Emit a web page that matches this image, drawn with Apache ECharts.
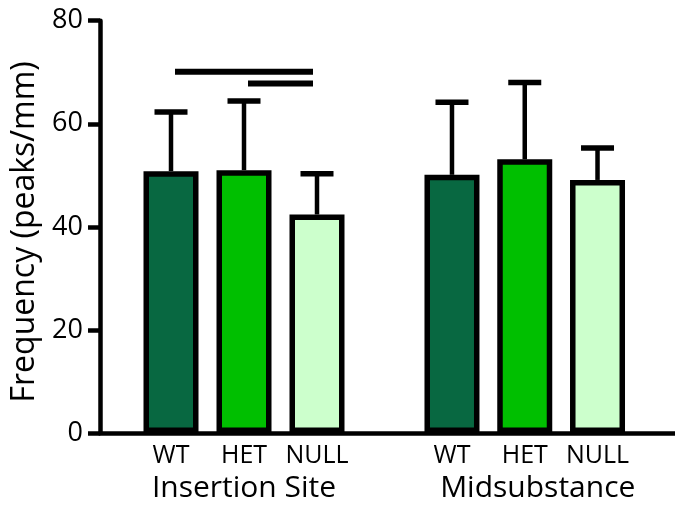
<!DOCTYPE html>
<html>
<head>
<meta charset="utf-8">
<script src="https://cdn.jsdelivr.net/npm/echarts@6/dist/echarts.min.js"></script>
<style>
  html, body { margin: 0; padding: 0; background: #fff; }
  #chart { width: 675px; height: 512px; }
</style>
</head>
<body>
<div id="chart"></div>
<script>
// Genotype categories and the two tissue regions
const genotypes = ['WT', 'HET', 'NULL'];
const regionNames = ['Insertion Site', 'Midsubstance'];

// Mean frequency (peaks/mm) and SD per genotype
const insertionMean = [50.8, 51.0, 42.4];
const insertionSD   = [11.5, 13.4, 7.9];
const midMean       = [50.1, 53.1, 49.1];
const midSD         = [14.1, 14.9, 6.2];

// Y axis range and step
const yMin = 0, yMax = 80, yStep = 20;

// Significance bars over the Insertion Site group
const sigFrom  = ['WT', 'HET'];
const sigTo    = ['NULL', 'NULL'];
const sigLevel = [70.1, 67.8];

const genoColors = ['#086841', '#00BF00', '#CCFFCC'];
const FONT = 'Open Sans';
const TOP = 20.7, BOTTOM = 79;

function barData(means) {
  return means.map((v, i) => ({ value: v, itemStyle: { color: genoColors[i] } }));
}
function errData(means, sds) {
  return means.map((v, i) => [i, v, sds[i]]);
}

function renderErr(params, api) {
  const base = api.coord([api.value(0), api.value(1)]);
  const top = api.coord([api.value(0), api.value(1) + api.value(2)]);
  const half = 16.5;
  return {
    type: 'group',
    children: [
      { type: 'line', shape: { x1: base[0], y1: base[1], x2: top[0], y2: top[1] },
        style: { stroke: '#000', lineWidth: 4.5 } },
      { type: 'line', shape: { x1: top[0] - half, y1: top[1], x2: top[0] + half, y2: top[1] },
        style: { stroke: '#000', lineWidth: 5.5 } }
    ]
  };
}

function renderSig(params, api) {
  const a = api.coord([api.value(0), api.value(2)]);
  const b = api.coord([api.value(1), api.value(2)]);
  return {
    type: 'line',
    shape: { x1: a[0] + 4, y1: a[1], x2: b[0] - 4, y2: b[1] },
    style: { stroke: '#000', lineWidth: 6 }
  };
}

function groupXAxis(gridIndex, name, pad) {
  return {
    type: 'category', gridIndex: gridIndex, data: genotypes,
    axisLine: { show: false }, axisTick: { show: false },
    axisLabel: { interval: 0, color: '#000', fontFamily: FONT, fontSize: 25, margin: 10.5 },
    name: name, nameLocation: 'middle', nameGap: 39,
    nameTextStyle: { color: '#000', fontFamily: FONT, fontSize: 30, padding: pad }
  };
}
function hiddenY(gridIndex) {
  return { type: 'value', gridIndex: gridIndex, min: yMin, max: yMax, show: false };
}

const chart = echarts.init(document.getElementById('chart'), null, { renderer: 'canvas' });
chart.setOption({
  animation: false,
  backgroundColor: '#fff',
  grid: [
    { left: 100, right: 0, top: TOP, bottom: BOTTOM },
    { left: 134.5, width: 219, top: TOP, bottom: BOTTOM },
    { left: 415.6, width: 218.3, top: TOP, bottom: BOTTOM }
  ],
  xAxis: [
    { type: 'value', gridIndex: 0, min: 0, max: 1,
      axisLine: { show: true, onZero: false, lineStyle: { color: '#000', width: 4.5 } },
      axisTick: { show: false }, axisLabel: { show: false }, splitLine: { show: false } },
    groupXAxis(1, regionNames[0], [0, 0, 0, 0]),
    groupXAxis(2, regionNames[1], [0, 0, 0, 26])
  ],
  yAxis: [
    { type: 'value', gridIndex: 0, min: yMin, max: yMax, interval: yStep,
      axisLine: { show: true, lineStyle: { color: '#000', width: 4.5 } },
      axisTick: { show: true, length: 12, lineStyle: { color: '#000', width: 4.5 } },
      axisLabel: { color: '#000', fontFamily: FONT, fontSize: 27, margin: 17 },
      splitLine: { show: false },
      name: 'Frequency (peaks/mm)', nameLocation: 'middle', nameGap: 58,
      nameTextStyle: { color: '#000', fontFamily: FONT, fontSize: 32, padding: [0, 10, 0, 0] } },
    hiddenY(1),
    hiddenY(2)
  ],
  series: [
    { type: 'bar', xAxisIndex: 1, yAxisIndex: 1, barWidth: 55, data: barData(insertionMean),
      itemStyle: { borderColor: '#000', borderWidth: 5.5 }, z: 2 },
    { type: 'bar', xAxisIndex: 2, yAxisIndex: 2, barWidth: 55, data: barData(midMean),
      itemStyle: { borderColor: '#000', borderWidth: 5.5 }, z: 2 },
    { type: 'custom', xAxisIndex: 1, yAxisIndex: 1, renderItem: renderErr,
      data: errData(insertionMean, insertionSD), z: 3 },
    { type: 'custom', xAxisIndex: 2, yAxisIndex: 2, renderItem: renderErr,
      data: errData(midMean, midSD), z: 3 },
    { type: 'custom', xAxisIndex: 1, yAxisIndex: 1, renderItem: renderSig,
      data: sigFrom.map((f, i) => [genotypes.indexOf(f), genotypes.indexOf(sigTo[i]), sigLevel[i]]), z: 3 }
  ]
});
</script>
</body>
</html>
